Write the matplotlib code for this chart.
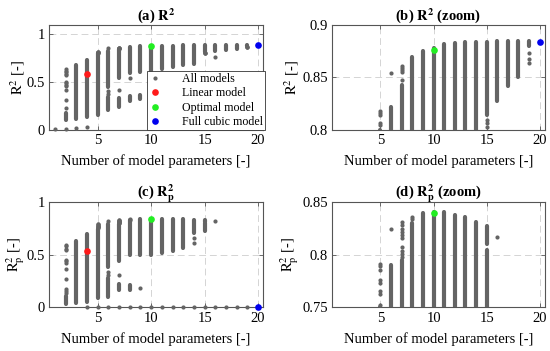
import matplotlib
matplotlib.use('Agg')
import matplotlib.pyplot as plt

plt.rcParams['font.family'] = ['Liberation Serif', 'DejaVu Serif']
plt.rcParams['mathtext.fontset'] = 'stix'

# ---- R^2 : continuous runs of models (x, low, high) and isolated models (x, y)
r2_band_x = [2, 3, 4, 5, 6, 6, 7, 7, 8, 8, 9, 9, 10, 11, 12, 13, 14, 15, 16, 17, 18, 19]
r2_band_lo = [0.10, 0.11, 0.13, 0.15, 0.45, 0.205, 0.54, 0.235, 0.59, 0.30, 0.61, 0.32,
              0.62, 0.64, 0.657, 0.675, 0.69, 0.8137, 0.827, 0.8415, 0.85, 0.880]
r2_band_hi = [0.17, 0.68, 0.735, 0.80, 0.822, 0.345, 0.8425, 0.335, 0.8696, 0.355, 0.8754, 0.36,
              0.878, 0.8818, 0.8824, 0.8837, 0.884, 0.884, 0.885, 0.885, 0.885, 0.885]
r2_pt_x = [1, 2, 2, 2, 2, 2, 2, 2, 2, 2, 2, 2, 2, 2, 3, 4,
           5, 5, 5, 5, 5, 6, 6, 6, 7, 7, 7, 7, 7, 7, 8, 15, 15, 15, 16, 19, 19, 19, 20]
r2_pt_y = [0.005, 0.634, 0.62, 0.60, 0.585, 0.574, 0.503, 0.49, 0.47, 0.458, 0.416, 0.31, 0.223, 0.01,
           0.02, 0.025,
           0.804, 0.806, 0.814, 0.816, 0.818, 0.854, 0.405, 0.375,
           0.847, 0.855, 0.857, 0.859, 0.861, 0.42, 0.545,
           0.809, 0.806, 0.8025, 0.765, 0.873, 0.867, 0.864, 0.884]

# ---- R_p^2
rp_band_x = [2, 3, 4, 5, 6, 6, 7, 7, 8, 8, 9, 10, 11, 12, 13, 14, 15, 15]
rp_band_lo = [0.035, 0.045, 0.055, 0.092, 0.38, 0.10, 0.44, 0.17, 0.50, 0.17, 0.50,
              0.50, 0.52, 0.54, 0.567, 0.71, 0.725, 0.81]
rp_band_hi = [0.108, 0.63, 0.70, 0.75, 0.79, 0.28, 0.795, 0.22, 0.830, 0.21, 0.840,
              0.8405, 0.8408, 0.8382, 0.836, 0.8313, 0.805, 0.8272]
rp_pt_x = [2, 2, 2, 2, 2, 2, 2, 2, 2, 2, 2, 2,
           5, 5, 5, 5, 5, 5, 5, 5, 6, 6, 6,
           7, 7, 7, 7, 7, 7, 7, 7, 7, 7, 7,
           8, 8, 9, 14, 14, 16,
           4, 5, 6, 7, 8, 9, 10, 11, 12, 13, 14, 15, 16, 17, 18, 19, 20]
rp_pt_y = [0.598, 0.58, 0.56, 0.545, 0.455, 0.44, 0.424, 0.367, 0.266, 0.171, 0.155, 0.139,
           0.752, 0.763, 0.766, 0.773, 0.776, 0.786, 0.789, 0.791, 0.825, 0.34, 0.31,
           0.798, 0.801, 0.804, 0.807, 0.816, 0.819, 0.822, 0.825, 0.828, 0.831, 0.31,
           0.834, 0.836, 0.187, 0.66, 0.61, 0.8168,
           0, 0, 0, 0, 0, 0, 0, 0, 0, 0, 0, 0, 0, 0, 0, 0, 0]

# ---- highlighted models: (x, R^2, Rp^2)
linear_x, linear_r2, linear_rp = 4, 0.58, 0.535
optimal_x, optimal_r2, optimal_rp = 10, 0.876, 0.840
cubic_x, cubic_r2, cubic_rp = 20, 0.884, 0.0

GREY = '#646464'
MS = 3.0
CMS = 4.8
FS = 10.5


def draw_panel(ax, bx, blo, bhi, px, py, lin, opt, cub, ylim, yticks, title, ylabel, full, ypad):
    lc = ax.vlines(bx, blo, bhi, colors=GREY, linewidth=MS, zorder=3)
    lc.set_capstyle('round')
    h_all, = ax.plot(px, py, 'o', color=GREY, markersize=MS, markeredgewidth=0,
                     zorder=3, clip_on=not full)
    h_lin, = ax.plot(linear_x, lin, 'o', color='#ff1a1a', markersize=CMS,
                     markeredgewidth=0, zorder=4, clip_on=not full)
    h_opt, = ax.plot(optimal_x, opt, 'o', color='#22ee22', markersize=CMS,
                     markeredgewidth=0, zorder=4, clip_on=not full)
    h_cub, = ax.plot(cubic_x, cub, 'o', color='#0000ee', markersize=CMS,
                     markeredgewidth=0, zorder=4, clip_on=not full)
    ax.set_xlim(0.45, 20.45)
    ax.set_ylim(*ylim)
    ax.set_xticks([5, 10, 15, 20])
    ax.set_yticks(yticks)
    ax.set_yticklabels([f'{t:g}' for t in yticks])
    ax.grid(True, linestyle=(0, (7, 4)), color='#d4d4d4', linewidth=0.7)
    ax.set_axisbelow(True)
    ax.tick_params(direction='in', top=True, right=True, length=3, width=0.6,
                   color='#555555', labelsize=FS, pad=3)
    for sp in ax.spines.values():
        sp.set_color('#555555')
        sp.set_linewidth(0.8)
    ax.set_title(title, fontsize=FS, fontweight='bold', pad=4)
    ax.set_xlabel('Number of model parameters [-]', fontsize=FS, labelpad=5.5)
    ax.set_ylabel(ylabel, fontsize=FS, labelpad=ypad)
    return [h_all, h_lin, h_opt, h_cub]


fig = plt.figure(figsize=(5.5, 3.51), dpi=100)
ax_a = fig.add_axes([0.089, 0.631, 0.389, 0.298])
ax_b = fig.add_axes([0.604, 0.631, 0.386, 0.298])
ax_c = fig.add_axes([0.089, 0.124, 0.389, 0.300])
ax_d = fig.add_axes([0.604, 0.124, 0.386, 0.300])

r2_label = r'$\mathrm{R}^2$ [-]'
rp_label = r'$\mathrm{R}_\mathrm{p}^2$ [-]'

handles = draw_panel(ax_a, r2_band_x, r2_band_lo, r2_band_hi, r2_pt_x, r2_pt_y,
                     linear_r2, optimal_r2, cubic_r2, (0, 1.1), [0, 0.5, 1],
                     r'(a) $\mathbf{R}^\mathbf{2}$', r2_label, True, -0.5)
draw_panel(ax_b, r2_band_x, r2_band_lo, r2_band_hi, r2_pt_x, r2_pt_y,
           linear_r2, optimal_r2, cubic_r2, (0.8, 0.9), [0.8, 0.85, 0.9],
           r'(b) $\mathbf{R}^\mathbf{2}$ (zoom)', r2_label, False, 1)
draw_panel(ax_c, rp_band_x, rp_band_lo, rp_band_hi, rp_pt_x, rp_pt_y,
           linear_rp, optimal_rp, cubic_rp, (0, 1), [0, 0.5, 1],
           r'(c) $\mathbf{R}_\mathbf{p}^\mathbf{2}$', rp_label, True, -0.5)
draw_panel(ax_d, rp_band_x, rp_band_lo, rp_band_hi, rp_pt_x, rp_pt_y,
           linear_rp, optimal_rp, cubic_rp, (0.75, 0.85), [0.75, 0.8, 0.85],
           r'(d) $\mathbf{R}_\mathbf{p}^\mathbf{2}$ (zoom)', rp_label, False, 1)

leg = ax_a.legend(handles, ['All models', 'Linear model', 'Optimal model', 'Full cubic model'],
                  loc='lower right', bbox_to_anchor=(1.01, -0.005), borderaxespad=0,
                  fontsize=8.6, handlelength=1.0, handletextpad=1.8, borderpad=0.15,
                  labelspacing=0.2, fancybox=False, framealpha=1)
leg.get_frame().set_edgecolor('#333333')
leg.get_frame().set_linewidth(0.6)
leg.set_zorder(10)

fig.savefig('out.png', dpi=100)
